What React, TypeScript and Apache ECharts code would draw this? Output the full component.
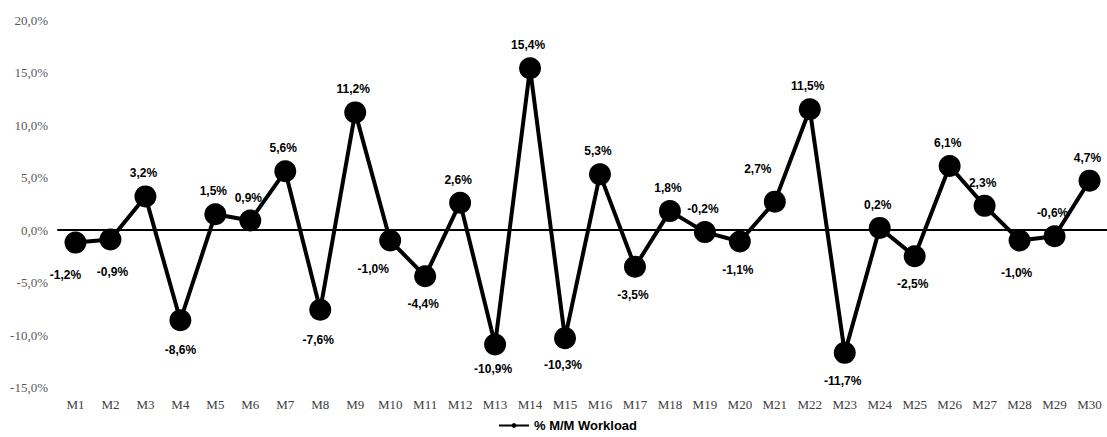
import React, { useEffect, useRef } from "react";
import * as echarts from "echarts";

const categories = ["M1","M2","M3","M4","M5","M6","M7","M8","M9","M10","M11","M12","M13","M14","M15","M16","M17","M18","M19","M20","M21","M22","M23","M24","M25","M26","M27","M28","M29","M30"];
const workload = [-1.2,-0.9,3.2,-8.6,1.5,0.9,5.6,-7.6,11.2,-1.0,-4.4,2.6,-10.9,15.4,-10.3,5.3,-3.5,1.8,-0.2,-1.1,2.7,11.5,-11.7,0.2,-2.5,6.1,2.3,-1.0,-0.6,4.7];
const seriesName = "% M/M Workload";
const yMin = -15;
const yMax = 20;
const yStep = 5;

// label placement overrides (index -> [position, dx, dy])
const labelOverrides: Record<number, [string, number, number]> = {
  0: ["bottom", -10, 4],
  1: ["bottom", 2, 5],
  3: ["bottom", 0, 2],
  7: ["bottom", -2, 2],
  12: ["bottom", -2, -3],
  14: ["bottom", -2, -1],
  9: ["bottom", -17, 0],
  18: ["top", -2, 0],
  20: ["top", -17, -10],
  27: ["bottom", -3, 4],
  28: ["top", -2, 0],
};

const fmt = (v: number) => v.toFixed(1).replace(".", ",") + "%";

export default function App() {
  const ref = useRef<HTMLDivElement>(null);
  useEffect(() => {
    if (!ref.current) return;
    const chart = echarts.init(ref.current, undefined, { renderer: "svg" });
    const data = workload.map((v, i) => {
      const ov = labelOverrides[i];
      const pos = ov ? ov[0] : v >= 0 ? "top" : "bottom";
      const dx = ov ? ov[1] : -2;
      const dy = ov ? ov[2] : 0;
      return {
        value: v,
        label: {
          position: pos,
          distance: pos === "top" ? 6 : 11,
          offset: [dx, dy],
        },
      };
    });
    chart.setOption({
      animation: false,
      backgroundColor: "#ffffff",
      grid: { left: 58, top: 20, width: 1056, height: 367.5, containLabel: false },
      legend: {
        bottom: 0,
        left: 493,
        itemWidth: 30,
        itemHeight: 6,
        itemGap: 4,
        data: [seriesName],
        textStyle: { fontFamily: "Liberation Sans, Arial, sans-serif", fontWeight: "bold", fontSize: 13, color: "#000" },
      },
      xAxis: [
        {
          type: "category",
          data: categories,
          boundaryGap: true,
          position: "bottom",
          axisLine: { show: false, onZero: false },
          axisTick: { show: false },
          axisLabel: { margin: 10, fontFamily: "Liberation Serif, Times New Roman, serif", fontSize: 13, color: "#404040", interval: 0 },
        },
        {
          type: "category",
          data: categories,
          boundaryGap: true,
          position: "bottom",
          axisLine: { show: true, onZero: true, lineStyle: { color: "#000", width: 2 } },
          axisTick: { show: false },
          axisLabel: { show: false },
        },
      ],
      yAxis: {
        type: "value",
        min: yMin,
        max: yMax,
        interval: yStep,
        axisLine: { show: false },
        axisTick: { show: false },
        splitLine: { show: false },
        axisLabel: {
          margin: 10,
          formatter: (v: number) => fmt(v),
          fontFamily: "Liberation Serif, Times New Roman, serif",
          fontSize: 13,
          color: "#595959",
        },
      },
      series: [
        {
          name: seriesName,
          type: "line",
          xAxisIndex: 0,
          data,
          symbol: "circle",
          symbolSize: 22,
          lineStyle: { color: "#000", width: 4 },
          itemStyle: { color: "#000" },
          label: {
            show: true,
            formatter: (p: any) => fmt(p.value),
            fontFamily: "Liberation Sans, Arial, sans-serif",
            fontWeight: "bold",
            fontSize: 12,
            color: "#000",
          },
        },
      ],
    });
    return () => chart.dispose();
  }, []);
  return (
    <div
      ref={ref}
      style={{ position: "fixed", left: 0, top: 0, width: 1107, height: 437, background: "#fff" }}
    />
  );
}
